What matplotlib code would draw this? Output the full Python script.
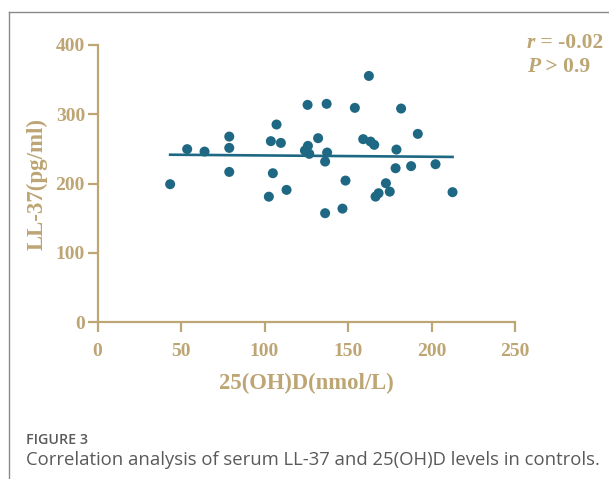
import matplotlib
matplotlib.use("Agg")
import matplotlib.pyplot as plt
from matplotlib.lines import Line2D

# ---- data ----
vitd = [43.5, 53.7, 64.1, 78.9, 78.9, 78.9, 107.2, 103.8, 109.8, 105.0,
        102.6, 113.2, 125.8, 137.2, 162.5, 154.1, 181.8, 191.8, 132.1, 159.1,
        163.5, 165.7, 126.0, 124.2, 126.8, 137.5, 136.3, 179.0, 178.5, 187.8,
        202.4, 148.5, 172.7, 175.0, 168.3, 166.5, 212.6, 136.3, 146.7]
ll37 = [199.0, 249.5, 246.0, 267.6, 251.3, 216.7, 285.0, 261.0, 258.5, 214.8,
        181.0, 190.8, 313.3, 314.8, 355.0, 309.0, 308.0, 271.5, 265.3, 263.9,
        260.4, 255.7, 254.2, 247.5, 242.7, 244.6, 231.6, 248.9, 222.0, 225.0,
        227.8, 204.2, 200.4, 188.3, 186.0, 181.1, 187.5, 157.2, 163.8]
fit_x = [43.5, 212.6]
fit_y = [241.5, 238.3]
x_ticks = [0, 50, 100, 150, 200, 250]
y_ticks = [0, 100, 200, 300, 400]
stat_syms = ["r", "P"]
stat_rest = [" = -0.02", " > 0.9"]

TAN = "#BDA574"
TEAL = "#1E6883"
SERIF = ["Liberation Serif", "DejaVu Serif"]

fig = plt.figure(figsize=(6.09, 4.79), dpi=100)
W, H = 609, 479
ax = fig.add_axes([97.5 / W, 1 - 322.3 / H, (515 - 97.5) / W, (322.3 - 44.7) / H])

ax.scatter(vitd, ll37, s=52, color=TEAL, edgecolors="none", zorder=3)
ax.plot(fit_x, fit_y, color=TEAL, lw=1.9, zorder=2)

ax.set_xlim(0, 250)
ax.set_ylim(0, 400)
ax.set_xticks(x_ticks)
ax.set_yticks(y_ticks)
for s in ["top", "right"]:
    ax.spines[s].set_visible(False)
for s in ["left", "bottom"]:
    ax.spines[s].set_color(TAN)
    ax.spines[s].set_linewidth(1.6)
ax.spines["left"].set_bounds(0, 400)
ax.spines["bottom"].set_bounds(0, 250)
ax.tick_params(axis="both", direction="out", length=7, width=1.6, color=TAN,
               labelcolor=TAN, labelsize=14)
ax.tick_params(axis="x", pad=8)
ax.tick_params(axis="y", pad=2)
for lab in ax.get_xticklabels() + ax.get_yticklabels():
    lab.set_fontfamily(SERIF)
    lab.set_fontweight("bold")
ax.patch.set_visible(False)

ax.set_xlabel("25(OH)D(nmol/L)", fontsize=16.3, fontweight="bold",
              family=SERIF, color=TAN, labelpad=9)
ax.set_ylabel("LL-37(pg/ml)", fontsize=16.5, fontweight="bold",
              family=SERIF, color=TAN, labelpad=6)

# statistics text: italic symbol followed by upright bold rest
fig.canvas.draw()
renderer = fig.canvas.get_renderer()
for i, (sym, rest) in enumerate(zip(stat_syms, stat_rest)):
    yy = 1 - (43 + 24.5 * i) / H
    t1 = fig.text(527 / W, yy, sym, fontsize=15.5, fontweight="bold",
                  style="italic", family=SERIF, color=TAN, va="center", ha="left")
    bb = t1.get_window_extent(renderer)
    fig.text(bb.x1 / W, yy, rest, fontsize=15.5, fontweight="bold",
             family=SERIF, color=TAN, va="center", ha="left")

# frame
fig.add_artist(Line2D([9 / W, 9 / W], [0, 1 - 11.5 / H], transform=fig.transFigure,
                      color="#8a8a8a", lw=1.0))
fig.add_artist(Line2D([9 / W, 1], [1 - 11.5 / H, 1 - 11.5 / H], transform=fig.transFigure,
                      color="#8a8a8a", lw=1.0))

fig.text(26 / W, 1 - 440 / H, "FIGURE 3", fontsize=10.3, family="Open Sans",
         fontweight="semibold", color="#5a5a5a", va="center", ha="left")
fig.text(26 / W, 1 - 460 / H,
         "Correlation analysis of serum LL-37 and 25(OH)D levels in controls.",
         fontsize=13.3, family="Open Sans", color="#5a5a5a", va="center", ha="left")

fig.savefig("out.png", dpi=100)
